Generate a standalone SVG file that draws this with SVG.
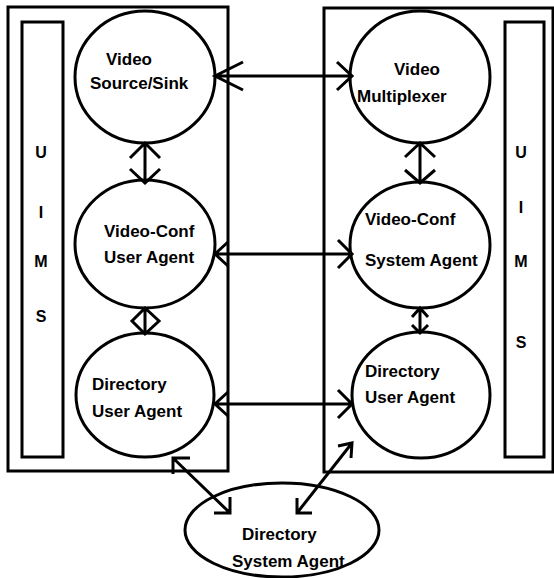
<svg xmlns="http://www.w3.org/2000/svg" width="554" height="578" viewBox="0 0 554 578">
  <style>
    .frame { fill: none; stroke: #000; stroke-width: 3; }
    .node { fill: #fff; stroke: #000; stroke-width: 3; }
    .wire { fill: none; stroke: #000; stroke-width: 3; stroke-linejoin: miter; stroke-linecap: butt; }
    .lbl { font-family: "Liberation Sans", Arial, sans-serif; font-weight: bold; font-size: 17px; fill: #000; }
    .bar { font-family: "Liberation Sans", Arial, sans-serif; font-weight: bold; font-size: 16px; fill: #000; text-anchor: middle; }
  </style>
  <rect width="554" height="578" fill="#fff"/>

  <!-- user side -->
  <g id="user-host">
    <rect class="frame" x="8" y="7" width="220" height="464"/>
  </g>
  <g id="user-uims">
    <rect class="frame" x="22" y="22" width="41" height="435"/>
    <text class="bar" x="41" y="158">U</text>
    <text class="bar" x="41" y="218">I</text>
    <text class="bar" x="41" y="267">M</text>
    <text class="bar" x="41" y="322">S</text>
  </g>

  <!-- system side -->
  <g id="system-host">
    <rect class="frame" x="324" y="8" width="229" height="464"/>
  </g>
  <g id="system-uims">
    <rect class="frame" x="505" y="22" width="39" height="435"/>
    <text class="bar" x="521" y="158">U</text>
    <text class="bar" x="521" y="213">I</text>
    <text class="bar" x="521" y="267">M</text>
    <text class="bar" x="521" y="348">S</text>
  </g>

  <g id="video-source-sink">
    <ellipse class="node" cx="145" cy="77" rx="70" ry="66"/>
    <text class="lbl" x="106" y="65">Video</text>
    <text class="lbl" x="90" y="89">Source/Sink</text>
  </g>
  <g id="videoconf-user-agent">
    <ellipse class="node" cx="145" cy="244" rx="70" ry="64"/>
    <text class="lbl" x="104" y="237">Video-Conf</text>
    <text class="lbl" x="104" y="263">User Agent</text>
  </g>
  <g id="directory-user-agent-left">
    <ellipse class="node" cx="145" cy="395" rx="69" ry="62"/>
    <text class="lbl" x="92" y="390">Directory</text>
    <text class="lbl" x="92" y="417">User Agent</text>
  </g>
  <g id="video-multiplexer">
    <ellipse class="node" cx="420" cy="77" rx="70" ry="66"/>
    <text class="lbl" x="394" y="75">Video</text>
    <text class="lbl" x="357" y="102">Multiplexer</text>
  </g>
  <g id="videoconf-system-agent">
    <ellipse class="node" cx="420" cy="245" rx="70" ry="63"/>
    <text class="lbl" x="365" y="225">Video-Conf</text>
    <text class="lbl" x="365" y="266">System Agent</text>
  </g>
  <g id="directory-user-agent-right">
    <ellipse class="node" cx="421" cy="395" rx="69" ry="63"/>
    <text class="lbl" x="365" y="377">Directory</text>
    <text class="lbl" x="365" y="403">User Agent</text>
  </g>
  <g id="directory-system-agent">
    <ellipse class="node" cx="282" cy="530" rx="97" ry="47"/>
    <text class="lbl" x="242" y="540">Directory</text>
    <text class="lbl" x="232" y="567">System Agent</text>
  </g>

  <!-- two-way links -->
  <g id="connectors">
    <!-- source/sink <-> multiplexer -->
    <path class="wire" d="M215 76 H352 M243 62 L215 76 L243 90 M337 62 L352 76 L337 90"/>
    <!-- source/sink <-> user agent -->
    <path class="wire" d="M145 143 V183 M130 158 L145 143 L160 158 M130 169 L145 183 L160 169"/>
    <!-- multiplexer <-> system agent -->
    <path class="wire" d="M420 143 V183 M405 157 L420 143 L435 157 M405 170 L420 183 L435 170"/>
    <!-- user agent <-> system agent -->
    <path class="wire" d="M215 254 H352 M228 242 L215 254 L228 266 M338 240 L352 254 L338 268"/>
    <!-- user agent <-> directory user agent (left) -->
    <path class="wire" d="M145 308 V334 M145 308 L132 321 L145 334 L159 321 Z"/>
    <!-- system agent <-> directory user agent (right) -->
    <path class="wire" d="M420 308 V333 M412 317 L420 308 L428 317 M412 325 L420 333 L428 325"/>
    <!-- directory user agents -->
    <path class="wire" d="M215 404 H352 M228 392 L215 404 L228 416 M338 390 L352 404 L338 418"/>
    <!-- left directory user agent <-> directory system agent -->
    <path class="wire" d="M173 458 L230 513 M190 458 L173 458 L173 474 M230 497 L230 513 L214 513"/>
    <!-- right directory user agent <-> directory system agent -->
    <path class="wire" d="M352 443 L297 513 M338 446 L352 443 L351 458 M297 498 L297 513 L312 513"/>
  </g>
</svg>
